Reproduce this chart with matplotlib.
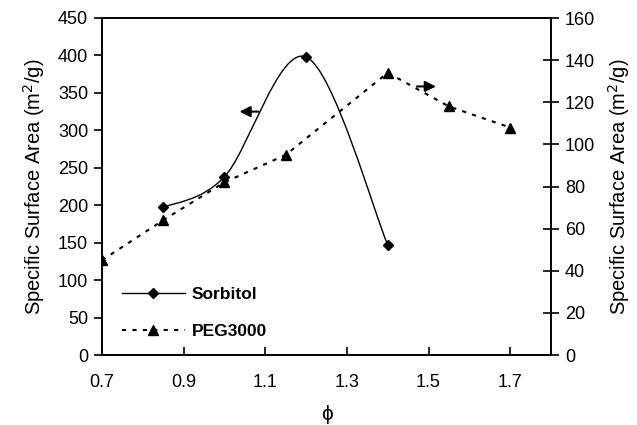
import numpy as np
import matplotlib
matplotlib.use("Agg")
import matplotlib.pyplot as plt
from matplotlib.path import Path
from matplotlib.patches import PathPatch
from matplotlib.lines import Line2D

plt.rcParams['font.family'] = ['Liberation Sans', 'DejaVu Sans']

# Data
sorb_x = [0.85, 1.0, 1.2, 1.4]
sorb_y = [197, 238, 398, 147]
peg_x = [0.7, 0.85, 1.0, 1.15, 1.4, 1.55, 1.7]
peg_y = [45, 64, 82, 95, 134, 118, 108]
xticks = [0.7, 0.9, 1.1, 1.3, 1.5, 1.7]
left_ticks = list(range(0, 451, 50))
right_ticks = list(range(0, 161, 20))

fig = plt.figure(figsize=(6.37, 4.25), dpi=100)
ax = fig.add_axes([102/637, 1-355/425, (551-102)/637, (355-18)/425])
ax2 = ax.twinx()

ax.set_xlim(0.7, 1.8)
ax.set_ylim(0, 450)
ax2.set_ylim(0, 160)


def smooth_path(axis, xs, ys):
    # Catmull-Rom style Bezier in display space (like a spreadsheet smoothed line)
    pts = axis.transData.transform(np.column_stack([xs, ys]))
    n = len(pts)
    verts = [pts[0]]
    codes = [Path.MOVETO]
    for i in range(n - 1):
        p0 = pts[i - 1] if i > 0 else pts[i]
        p1 = pts[i]
        p2 = pts[i + 1]
        p3 = pts[i + 2] if i + 2 < n else pts[i + 1]
        c1 = p1 + (p2 - p0) / 6.0
        c2 = p2 - (p3 - p1) / 6.0
        verts += [c1, c2, p2]
        codes += [Path.CURVE4] * 3
    return Path(verts, codes)

fig.canvas.draw()
path = smooth_path(ax, sorb_x, sorb_y)
ax.add_patch(PathPatch(path, transform=None, facecolor='none', edgecolor='black', lw=1.0, zorder=3))
ax.plot(sorb_x, sorb_y, linestyle='none', marker='D', markersize=5, color='black', zorder=4)

ax2.plot(peg_x, peg_y, linestyle=(0, (2, 3)), lw=1.5, color='black', marker='^', markersize=7, zorder=4)

# arrows
ax.annotate('', xy=(1.03, 325), xytext=(1.09, 325),
            arrowprops=dict(arrowstyle='-|>', color='black', lw=1.5, mutation_scale=16))
ax2.annotate('', xy=(1.525, 127.5), xytext=(1.465, 127.5),
             arrowprops=dict(arrowstyle='-|>', color='black', lw=1.5, mutation_scale=16))

ax.set_xticks(xticks)
ax.set_xticklabels([f"{t:.1f}" for t in xticks])
ax.set_yticks(left_ticks)
ax2.set_yticks(right_ticks)

ax.tick_params(axis='x', direction='in', length=6, width=1.2, labelsize=13, pad=14)
ax.tick_params(axis='y', direction='out', length=6, width=1.2, labelsize=13, pad=4)
ax2.tick_params(axis='y', direction='inout', length=12, width=1.2, labelsize=13, pad=4)

for a in (ax, ax2):
    for s in a.spines.values():
        s.set_linewidth(1.2)

ax.set_ylabel('Specific Surface Area (m$^2$/g)', fontsize=14.5, labelpad=8)
ax2.set_ylabel('Specific Surface Area (m$^2$/g)', fontsize=14.5, labelpad=8)
ax.set_xlabel('ϕ', fontsize=15, labelpad=10)

handles = [
    Line2D([], [], color='black', lw=1.0, marker='D', markersize=5),
    Line2D([], [], color='black', lw=1.5, linestyle=(0, (2, 3)), marker='^', markersize=7),
]
leg = ax.legend(handles, ['Sorbitol', 'PEG3000'], loc='lower left',
                bbox_to_anchor=(0.01, 0.0), frameon=False, handlelength=3.6,
                labelspacing=1.3, handletextpad=0.4, prop={'weight': 'bold', 'size': 12.5})

fig.savefig('out.png', dpi=100)
